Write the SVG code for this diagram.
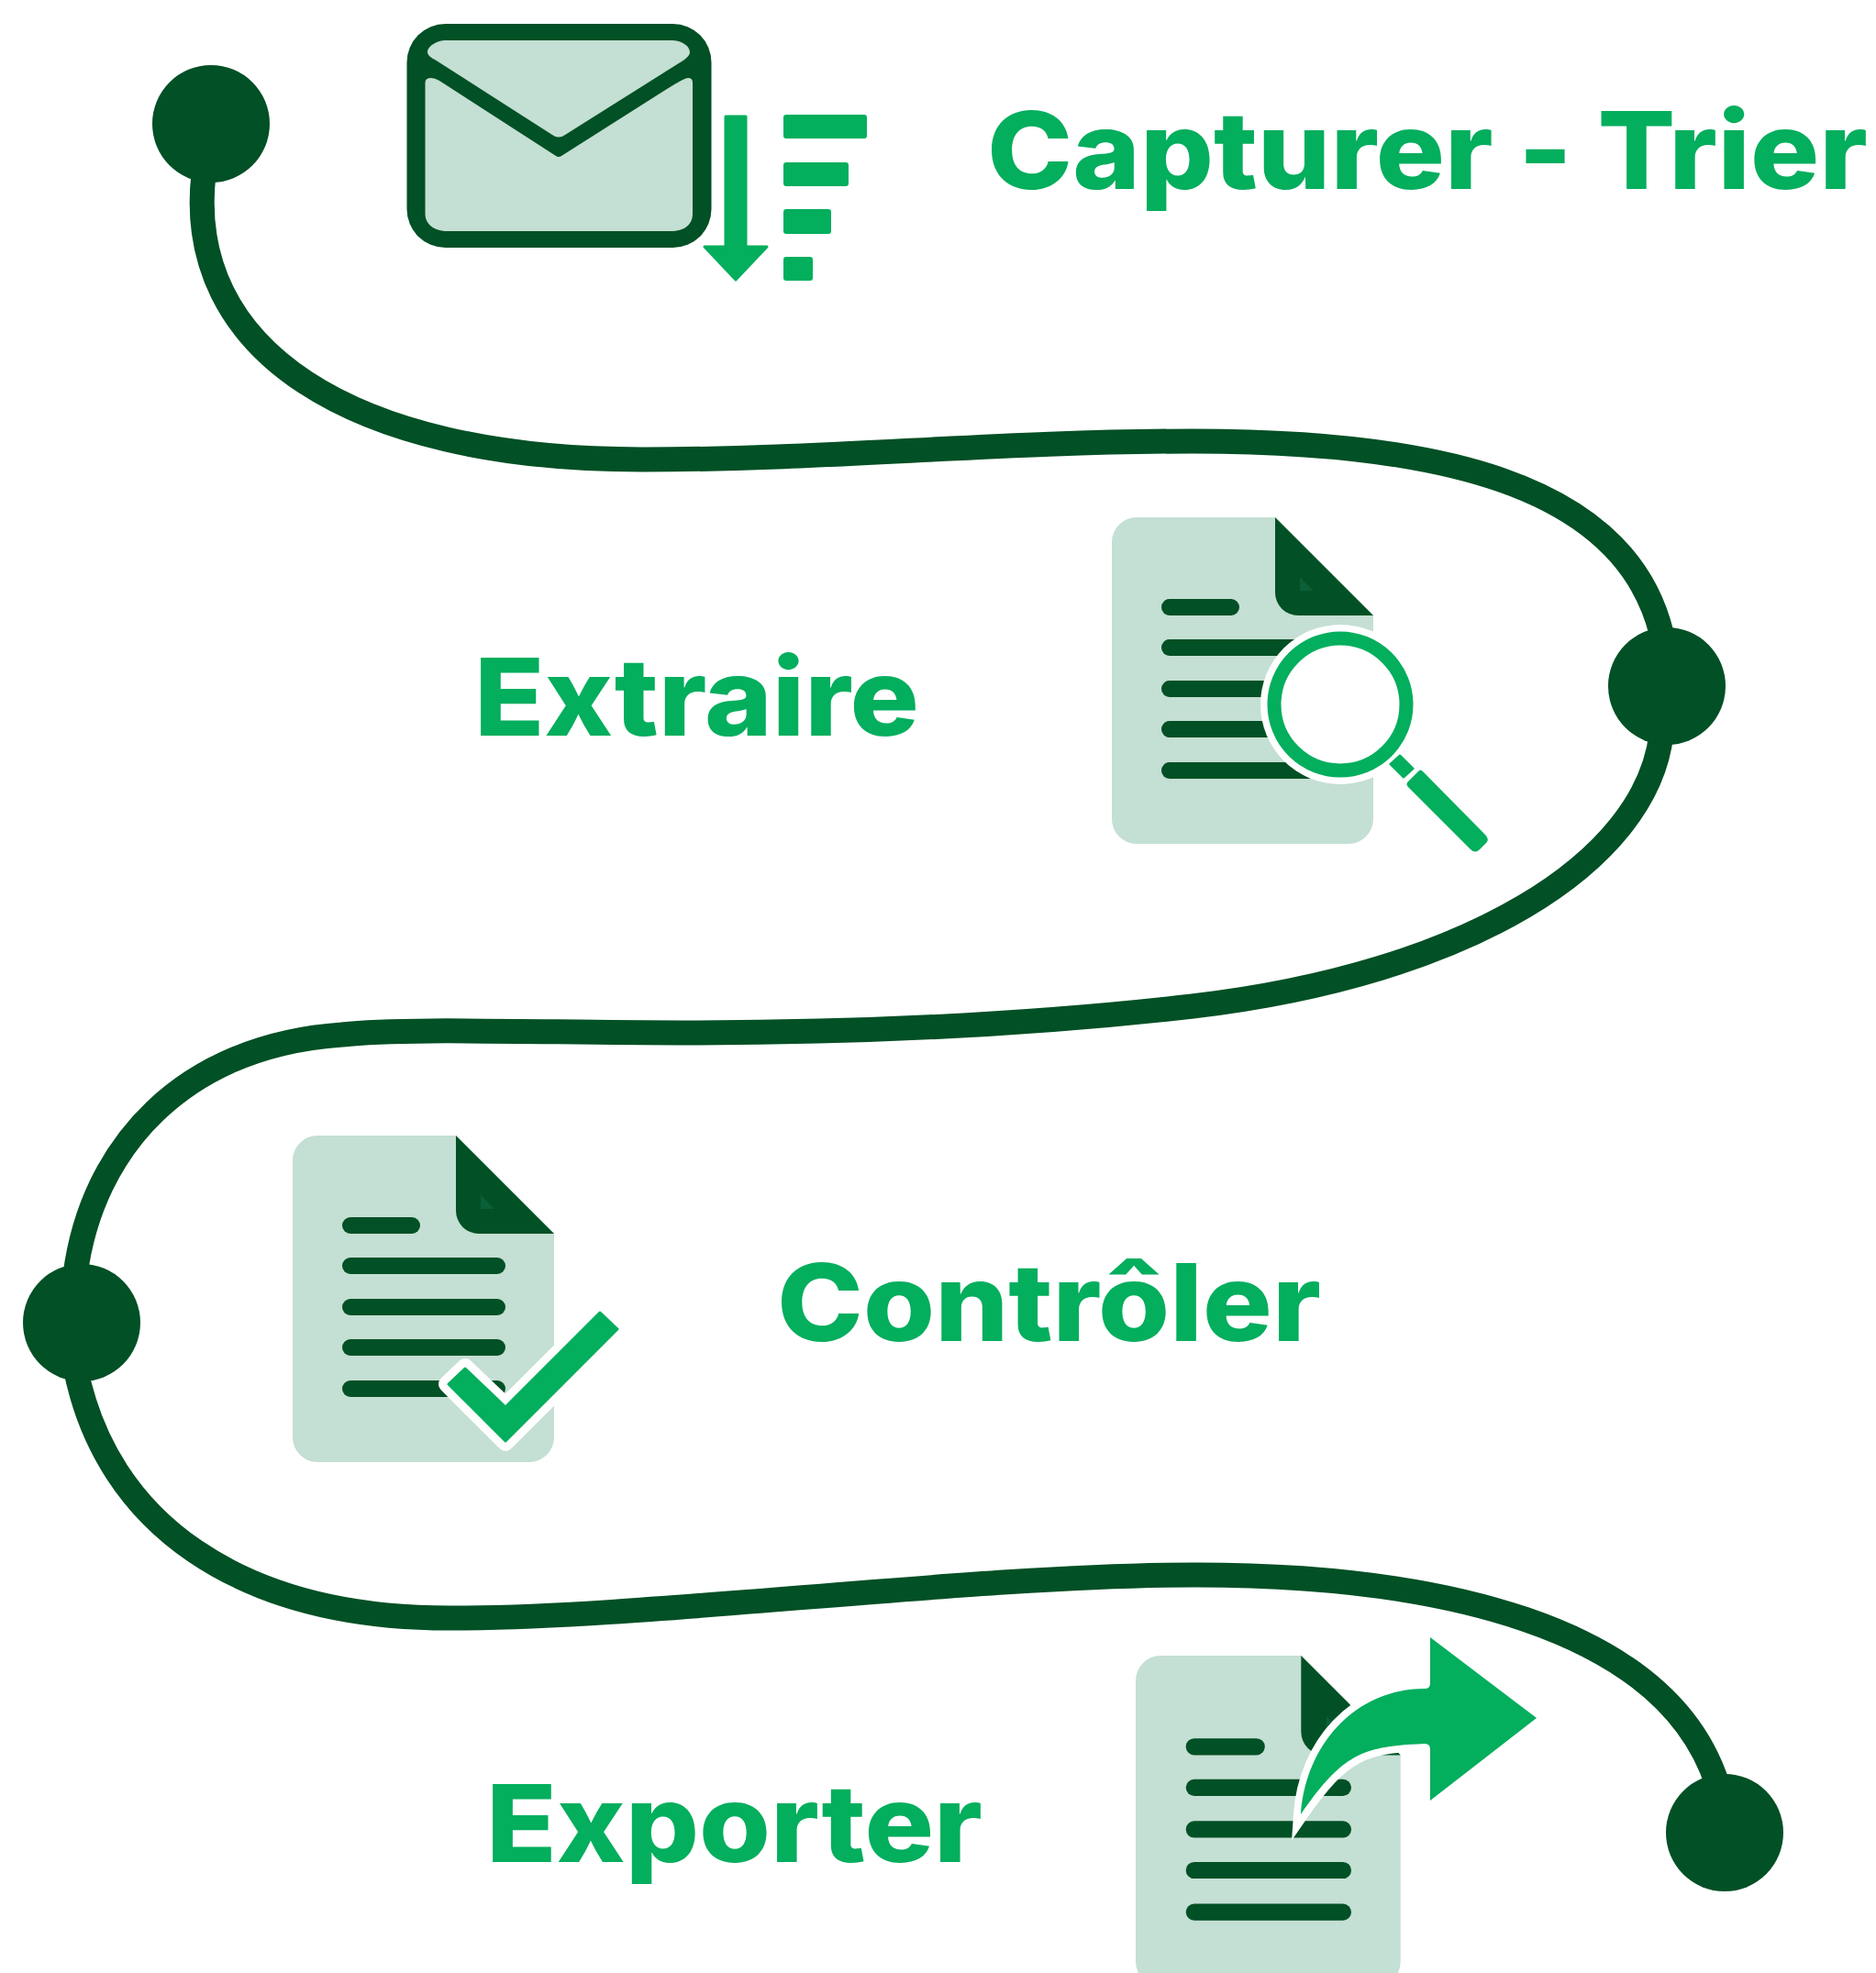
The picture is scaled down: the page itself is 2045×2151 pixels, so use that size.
<svg xmlns="http://www.w3.org/2000/svg" xmlns:xlink="http://www.w3.org/1999/xlink" width="2045" height="2151" viewBox="0 0 2045 2151">
<style>
.dk{fill:#025025}.gr{fill:#03ae5d}.lt{fill:#c4dfd3}
.dot{fill:#025025}
.conn{fill:none;stroke:#025025;stroke-width:27}
.lbl{font-family:Inter,"Liberation Sans",sans-serif;font-weight:800;font-size:117px;fill:#03ae5d}
</style>
<defs>
<g id="doc">
<path class="lt" d="M27,0H178L285,107V329A27,27 0 0 1 258,356H27A27,27 0 0 1 0,329V27A27,27 0 0 1 27,0Z"/>
<path d="M178,0L285,107H203A25,25 0 0 1 178,82Z" class="dk"/>
<path d="M205,65L220,80H205Z" fill="#0a5f38"/>
<rect class="dk" x="54" y="89" width="85" height="18" rx="9"/>
<rect class="dk" x="54" y="133" width="178" height="18" rx="9"/>
<rect class="dk" x="54" y="178" width="178" height="18" rx="9"/>
<rect class="dk" x="54" y="222" width="178" height="18" rx="9"/>
<rect class="dk" x="54" y="267" width="178" height="18" rx="9"/>
</g>
</defs>
<rect width="2045" height="2151" fill="#fff"/>
<g id="connectors">
<path class="conn" d="M222,190C200,380 380,501 700,501C900,501 1090,481 1300,481C1560,481 1770,525 1811,690"/>
<path class="conn" d="M1811,800C1795,940 1600,1062 1300,1097C1100,1120 900,1126 741,1126C600,1126 440,1120 373,1128C200,1140 100,1250 82,1390"/>
<path class="conn" d="M82,1490C115,1660 260,1764 490,1764C700,1765 1060,1717 1303,1717C1560,1717 1815,1770 1872,1945"/>
</g>
<g id="dot-1"><circle class="dot" cx="230" cy="135" r="64"/></g>
<g id="dot-2"><circle class="dot" cx="1817" cy="748" r="64"/></g>
<g id="dot-3"><circle class="dot" cx="89" cy="1442" r="64"/></g>
<g id="dot-4"><circle class="dot" cx="1880" cy="1998" r="64"/></g>
<g id="capture-icon">
<rect class="dk" x="443.5" y="26" width="332" height="244" rx="42"/>
<path class="lt" d="M486,44H732C743,44 752,50 752,57C752,63 741,68 724,79L616,147Q609,152 602,147L474,65C468,62 466,59 466,57C466,50 477,44 486,44Z"/>
<path class="lt" d="M463.5,90Q463.5,85 470,85Q474,85 479,88L606,170Q609,172 612,170L727,97C740,89 747,85 750,85Q755,85 755,90V233C755,245 746,252 731,252H488C474,252 463.5,245 463.5,233Z"/>
<path class="gr" stroke="#03ae5d" stroke-width="3" stroke-linejoin="round" d="M791,127H813V269H836L802,305L768,269H791Z"/>
<rect class="gr" x="854" y="125" width="91" height="26" rx="3"/>
<rect class="gr" x="854" y="177" width="71" height="26" rx="3"/>
<rect class="gr" x="854" y="228" width="52" height="27" rx="3"/>
<rect class="gr" x="854" y="280" width="32" height="26" rx="3"/>
</g>
<g id="capture-label"><text class="lbl" x="1076" y="206" textLength="960" lengthAdjust="spacingAndGlyphs">Capturer <tspan dy="7">-</tspan><tspan dy="-7"> Trier</tspan></text></g>
<g id="extract-icon">
<use xlink:href="#doc" href="#doc" x="1212" y="564"/>
<circle cx="1461" cy="768" r="87" fill="#fff"/>
<circle cx="1461" cy="768" r="72" fill="#fff" stroke="#03ae5d" stroke-width="15"/>
<path class="gr" stroke="#03ae5d" stroke-width="3" stroke-linejoin="round" d="M1526,824L1540,838L1530,847L1516,833Z"/>
<path class="gr" d="M1546,841Q1548,838 1551,841L1619,910Q1624,915 1620,919L1613,926Q1608,931 1603,926L1535,858Q1532,855 1535,852Z"/>
</g>
<g id="extract-label"><text class="lbl" x="517" y="802" textLength="485" lengthAdjust="spacingAndGlyphs">Extraire</text></g>
<g id="control-icon">
<use xlink:href="#doc" href="#doc" x="319" y="1238"/>
<path fill="#fff" stroke="#fff" stroke-width="18" stroke-linejoin="round" d="M654,1429L675,1449L551,1573L487,1509L507,1490L551,1532Z"/>
<path class="gr" stroke="#03ae5d" stroke-width="3" stroke-linejoin="round" d="M654,1431L673,1449L551,1571L489,1509L507,1492L551,1534Z"/>
</g>
<g id="control-label"><text class="lbl" x="847" y="1462" textLength="593" lengthAdjust="spacingAndGlyphs">Contrôler</text></g>
<g id="export-icon">
<use xlink:href="#doc" href="#doc" transform="translate(1238,1805) scale(1.013)"/>
<path class="gr" stroke="#fff" stroke-width="16" stroke-miterlimit="20" paint-order="stroke" d="M1418,1978C1423,1903 1477,1841 1553,1841Q1559,1841 1559,1835V1785L1675,1873L1559,1963V1907Q1559,1901 1553,1901C1487,1904 1465,1910 1418,1978Z"/>
</g>
<g id="export-label"><text class="lbl" x="530" y="2030" textLength="541" lengthAdjust="spacingAndGlyphs">Exporter</text></g>
</svg>
